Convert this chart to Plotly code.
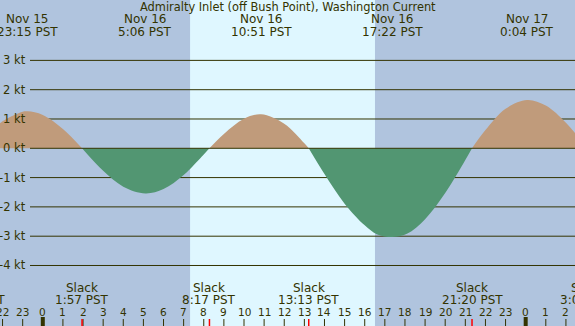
import plotly.graph_objects as go

# ---- data (hours from Nov 16 00:00 PST) ----
curve_hours = [-3.37, -3, -2, -1, -0.75, 0, 1, 1.95, 3, 4, 5.1, 6, 7, 8, 8.283,
               9, 10, 10.85, 12, 13, 13.217, 14, 15, 16, 16.6, 17.367, 18.1, 19, 20, 21,
               21.333, 22, 23, 24.067, 25, 26, 27.05]
curve_knots = [0, 0.28, 0.92, 1.25, 1.26, 1.14, 0.66, 0, -0.77, -1.31, -1.54, -1.39,
               -0.91, -0.21, 0, 0.49, 1.01, 1.16, 0.84, 0.17, 0, -0.88, -1.89, -2.63,
               -2.93, -3.03, -2.92, -2.42, -1.53, -0.40, 0, 0.62, 1.35, 1.65, 1.46, 0.87, 0]

max_hours = [-0.75, 5.1, 10.85, 17.367, 24.067]
max_dates = ["Nov 15", "Nov 16", "Nov 16", "Nov 16", "Nov 17"]
max_times = ["23:15 PST", "5:06 PST", "10:51 PST", "17:22 PST", "0:04 PST"]

slack_hours = [-3.37, 1.95, 8.283, 13.217, 21.333, 27.05]
slack_times = ["20:38 PST", "1:57 PST", "8:17 PST", "13:13 PST", "21:20 PST", "3:03 PST"]

sunrise, sunset = 7.32, 16.51
hour_ticks = list(range(-2, 27))
kt_ticks = [3, 2, 1, 0, -1, -2, -3, -4]
title = "Admiralty Inlet (off Bush Point), Washington Current"

# ---- style ----
W, H = 575, 326
X_RANGE = [-2.127, 26.451]
Y_RANGE = [-6.065, 5.061]
TXT = "#333300"
NIGHT = "#b0c4de"
DAY = "#dff7ff"
FLOOD = "#c09b7b"
EBB = "#529672"
FONT = "DejaVu Sans"


def paper_x(h):
    return (h - X_RANGE[0]) / (X_RANGE[1] - X_RANGE[0])


def py(px):
    return 1 - px / H


fig = go.Figure()

# split curve into flood / ebb segments at slack points
segs = []
cur = [(curve_hours[0], curve_knots[0])]
for h, v in zip(curve_hours[1:], curve_knots[1:]):
    cur.append((h, v))
    if v == 0:
        segs.append(cur)
        cur = [(h, v)]
for seg in segs:
    xs = [p[0] for p in seg]
    ys = [p[1] for p in seg]
    color = FLOOD if max(ys) > 0 else EBB
    fig.add_trace(go.Scatter(x=xs, y=ys, mode="lines", line=dict(width=0, shape="spline", color=color),
                             fill="tozeroy", fillcolor=color, hoverinfo="skip", showlegend=False))

shapes = []
# daylight band
shapes.append(dict(type="rect", xref="x", yref="paper", x0=sunrise, x1=sunset, y0=0, y1=1,
                   fillcolor=DAY, line=dict(width=0), layer="below"))
# horizontal grid
for k in kt_ticks:
    shapes.append(dict(type="line", xref="paper", yref="y", x0=30 / W, x1=1, y0=k, y1=k,
                       line=dict(color=TXT, width=1), layer="above" if k == 0 else "below"))
# hour ticks
for h in hour_ticks:
    mid = h % 24 == 0
    shapes.append(dict(type="line", xref="x", yref="paper", x0=h, x1=h, y0=0, y1=(9 if mid else 7) / H,
                       line=dict(color=TXT, width=4 if mid else 1), layer="above"))
# slack ticks
for h in slack_hours:
    shapes.append(dict(type="line", xref="x", yref="paper", x0=h, x1=h, y0=0, y1=7 / H,
                       line=dict(color="#ff0000", width=1.5), layer="above"))

ann = []


def add_text(h, ypx, text, size=12):
    if X_RANGE[0] <= h <= X_RANGE[1]:
        ann.append(dict(x=h, xref="x", y=py(ypx), yref="paper", text=text, showarrow=False,
                        xanchor="center", yanchor="middle", font=dict(family=FONT, size=size, color=TXT)))
    else:
        ann.append(dict(x=paper_x(h), xref="paper", y=py(ypx), yref="paper", text=text, showarrow=False,
                        xanchor="center", yanchor="middle", font=dict(family=FONT, size=size, color=TXT)))


ann.append(dict(x=0.5, xref="paper", y=py(7), yref="paper", text=title, showarrow=False,
                xanchor="center", yanchor="middle", font=dict(family=FONT, size=11.4, color=TXT)))
for h, d, t in zip(max_hours, max_dates, max_times):
    add_text(h, 19.5, d)
    add_text(h, 31.5, t)
for h, t in zip(slack_hours, slack_times):
    add_text(h, 287.5, "Slack")
    add_text(h, 299.5, t)
for h in hour_ticks:
    add_text(h, 311.5, str(h % 24), size=10.5)
for k in kt_ticks:
    ann.append(dict(x=28 / W, xref="paper", y=k, yref="y", text=f"{k} kt", showarrow=False,
                    xanchor="right", yanchor="middle", font=dict(family=FONT, size=11.5, color=TXT)))

fig.update_layout(width=W, height=H, margin=dict(l=0, r=0, t=0, b=0),
                  plot_bgcolor=NIGHT, paper_bgcolor=NIGHT,
                  xaxis=dict(range=X_RANGE, visible=False, fixedrange=True),
                  yaxis=dict(range=Y_RANGE, visible=False, fixedrange=True),
                  shapes=shapes, annotations=ann, showlegend=False)

fig.write_html("out.html", config={"displayModeBar": False},
               post_script="document.body.style.margin='0';document.body.style.overflow='hidden';")
